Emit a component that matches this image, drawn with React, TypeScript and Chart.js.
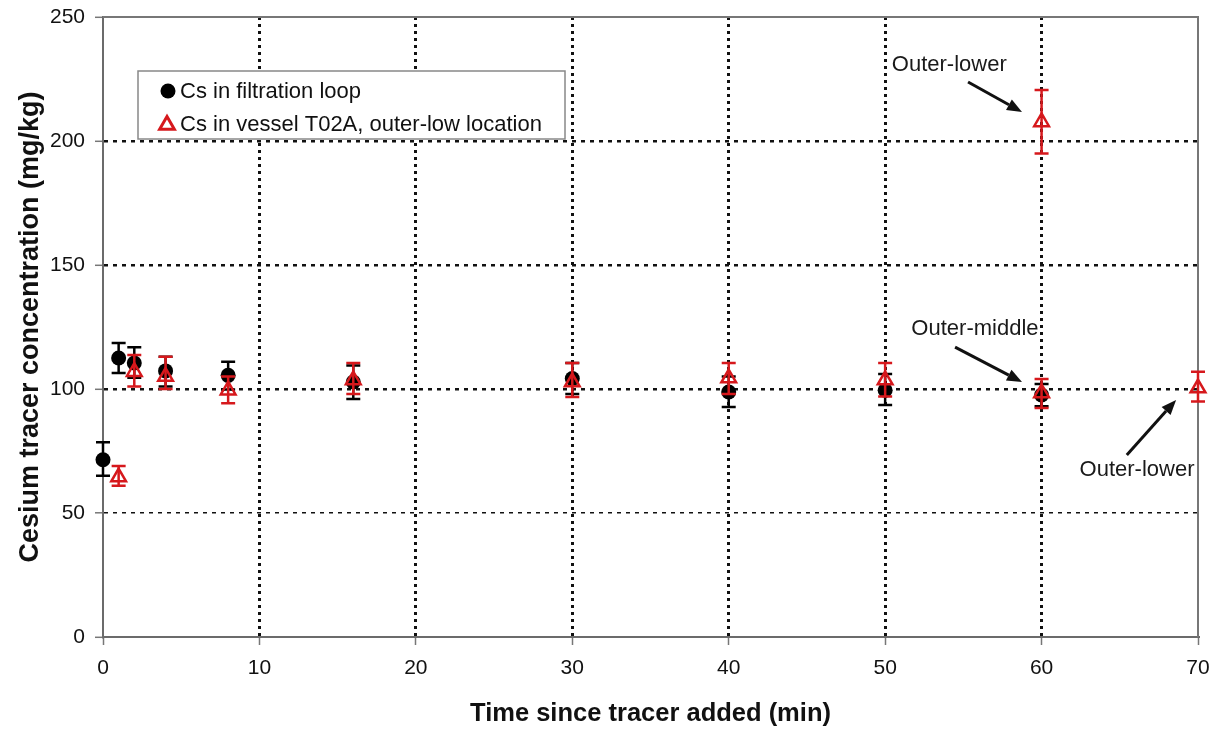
import React, { useEffect, useRef } from 'react';
import { Chart, registerables } from 'chart.js';

Chart.register(...registerables);

// ---- data ----
const xTickStep = 10;
const yTickStep = 50;
const xRange = [0, 70];
const yRange = [0, 250];

const loopTime = [0, 1, 2, 4, 8, 16, 30, 40, 50, 60];
const loopConc = [71.5, 112.5, 110.5, 107.3, 105.5, 102.8, 104.2, 98.8, 99.5, 97.6];
const loopLow = [65, 106.5, 104.5, 101, 99.8, 96, 98, 92.7, 93.5, 93];
const loopHigh = [78.5, 118.5, 116.8, 113, 111, 109.5, 110.5, 105, 106, 102];

const vesselTime = [1, 2, 4, 8, 16, 30, 40, 50, 60, 60, 70];
const vesselConc = [64.5, 107, 105, 99.5, 103.6, 102.8, 104.4, 103.6, 207.7, 98.4, 100.4];
const vesselLow = [61, 101, 100, 94.3, 98, 96.8, 98, 97, 195, 92.3, 95];
const vesselHigh = [69, 113.7, 113, 105, 110.5, 110.5, 110.5, 110.5, 220.6, 104, 107];

const loopLabel = 'Cs in filtration loop';
const vesselLabel = 'Cs in vessel T02A, outer-low location';

const noteTexts = ['Outer-lower', 'Outer-middle', 'Outer-lower'];
const noteTextAt = [[54.1, 230.6], [55.74, 124.2], [66.1, 67.3]];
const noteArrowFrom = [[55.3, 223.8], [54.47, 116.9], [65.45, 73.4]];
const noteArrowTo = [[58.75, 211.7], [58.75, 102.8], [68.6, 95.6]];

const RED = 'rgb(214,24,28)';
const FONT = "'Liberation Sans', Arial, sans-serif";

const errorBarPlugin = {
  id: 'errorBars',
  beforeDatasetDraw(chart: any, args: any) {
    const ds = chart.data.datasets[args.index];
    if (!ds.errLow) return;
    const meta = chart.getDatasetMeta(args.index);
    const ys = chart.scales.y;
    const ctx = chart.ctx;
    ctx.save();
    ctx.strokeStyle = ds.errColor;
    ctx.lineWidth = 2.5;
    ctx.setLineDash([]);
    meta.data.forEach((pt: any, i: number) => {
      const x = pt.x;
      const yl = ys.getPixelForValue(ds.errLow[i]);
      const yh = ys.getPixelForValue(ds.errHigh[i]);
      ctx.beginPath();
      ctx.moveTo(x, yl);
      ctx.lineTo(x, yh);
      ctx.moveTo(x - 7, yl);
      ctx.lineTo(x + 7, yl);
      ctx.moveTo(x - 7, yh);
      ctx.lineTo(x + 7, yh);
      ctx.stroke();
    });
    ctx.restore();
  },
};

const framePlugin = {
  id: 'frame',
  beforeDatasetsDraw(chart: any) {
    const { ctx, chartArea } = chart;
    ctx.save();
    ctx.strokeStyle = '#777';
    ctx.lineWidth = 2;
    ctx.beginPath();
    ctx.moveTo(chartArea.left, chartArea.top);
    ctx.lineTo(chartArea.right, chartArea.top);
    ctx.lineTo(chartArea.right, chartArea.bottom);
    ctx.stroke();
    ctx.restore();
  },
};

function drawTriangle(ctx: CanvasRenderingContext2D, x: number, y: number, r: number) {
  ctx.beginPath();
  let rad = 0;
  ctx.moveTo(x + Math.sin(rad) * r, y - Math.cos(rad) * r);
  rad += (2 * Math.PI) / 3;
  ctx.lineTo(x + Math.sin(rad) * r, y - Math.cos(rad) * r);
  rad += (2 * Math.PI) / 3;
  ctx.lineTo(x + Math.sin(rad) * r, y - Math.cos(rad) * r);
  ctx.closePath();
}

const legendPlugin = {
  id: 'boxLegend',
  afterDatasetsDraw(chart: any) {
    const { ctx, chartArea } = chart;
    const bx = chartArea.left + 35;
    const by = chartArea.top + 54;
    const bw = 427;
    const bh = 68;
    ctx.save();
    ctx.fillStyle = '#fff';
    ctx.fillRect(bx, by, bw, bh);
    ctx.strokeStyle = '#888';
    ctx.lineWidth = 1.5;
    ctx.strokeRect(bx, by, bw, bh);
    ctx.font = `22px ${FONT}`;
    ctx.textBaseline = 'middle';
    ctx.textAlign = 'left';
    const row1 = by + 20;
    const row2 = by + 53;
    ctx.beginPath();
    ctx.arc(bx + 30, row1, 7.5, 0, Math.PI * 2);
    ctx.fillStyle = '#000';
    ctx.fill();
    ctx.fillStyle = '#111';
    ctx.fillText(chart.data.datasets[0].label, bx + 42, row1 + 1);
    ctx.strokeStyle = RED;
    ctx.lineWidth = 3;
    drawTriangle(ctx, bx + 29, row2 + 1, 8.5);
    ctx.stroke();
    ctx.fillText(chart.data.datasets[1].label, bx + 42, row2 + 1);
    ctx.restore();
  },
};

const notesPlugin = {
  id: 'notes',
  afterDatasetsDraw(chart: any) {
    const { ctx } = chart;
    const xs = chart.scales.x;
    const ys = chart.scales.y;
    ctx.save();
    ctx.font = `22px ${FONT}`;
    ctx.textAlign = 'center';
    ctx.textBaseline = 'middle';
    noteTexts.forEach((t, i) => {
      const tx = xs.getPixelForValue(noteTextAt[i][0]);
      const ty = ys.getPixelForValue(noteTextAt[i][1]);
      ctx.fillStyle = '#1a1a1a';
      ctx.fillText(t, tx, ty);
      const x1 = xs.getPixelForValue(noteArrowFrom[i][0]);
      const y1 = ys.getPixelForValue(noteArrowFrom[i][1]);
      const x2 = xs.getPixelForValue(noteArrowTo[i][0]);
      const y2 = ys.getPixelForValue(noteArrowTo[i][1]);
      const ang = Math.atan2(y2 - y1, x2 - x1);
      const hl = 15;
      const hw = 6;
      const bxp = x2 - Math.cos(ang) * hl;
      const byp = y2 - Math.sin(ang) * hl;
      ctx.strokeStyle = '#111';
      ctx.lineWidth = 3;
      ctx.beginPath();
      ctx.moveTo(x1, y1);
      ctx.lineTo(bxp, byp);
      ctx.stroke();
      ctx.fillStyle = '#111';
      ctx.beginPath();
      ctx.moveTo(x2, y2);
      ctx.lineTo(bxp + Math.sin(ang) * hw, byp - Math.cos(ang) * hw);
      ctx.lineTo(bxp - Math.sin(ang) * hw, byp + Math.cos(ang) * hw);
      ctx.closePath();
      ctx.fill();
    });
    ctx.restore();
  },
};

const zeroPad = (s: any) => {
  s.paddingTop = 0;
  s.paddingBottom = 0;
  s.paddingLeft = 0;
  s.paddingRight = 0;
};

export default function App() {
  const ref = useRef<HTMLCanvasElement | null>(null);
  useEffect(() => {
    document.body.style.margin = '0';
    const canvas = ref.current;
    if (!canvas) return;
    const hideEdge = (min: number, max: number, col: string) => (c: any) =>
      c.tick && (c.tick.value === min || c.tick.value === max) ? 'rgba(0,0,0,0)' : col;
    const chart = new Chart(canvas, {
      type: 'scatter',
      data: {
        datasets: [
          {
            label: loopLabel,
            data: loopTime.map((t, i) => ({ x: t, y: loopConc[i] })),
            pointStyle: 'circle',
            pointRadius: 7.5,
            pointHoverRadius: 7.5,
            backgroundColor: '#000',
            borderColor: '#000',
            borderWidth: 0,
            showLine: false,
            order: 1,
            clip: false,
            errLow: loopLow,
            errHigh: loopHigh,
            errColor: '#000',
          } as any,
          {
            label: vesselLabel,
            data: vesselTime.map((t, i) => ({ x: t, y: vesselConc[i] })),
            pointStyle: 'triangle',
            pointRadius: 8.5,
            pointHoverRadius: 8.5,
            backgroundColor: 'rgba(0,0,0,0)',
            borderColor: RED,
            borderWidth: 2.5,
            showLine: false,
            order: 0,
            clip: false,
            errLow: vesselLow,
            errHigh: vesselHigh,
            errColor: RED,
          } as any,
        ],
      },
      options: {
        animation: false,
        responsive: false,
        devicePixelRatio: 1,
        layout: { padding: { top: 17, right: 14, left: 0, bottom: 0 } },
        plugins: {
          legend: { display: false },
          tooltip: { enabled: false },
        },
        scales: {
          x: {
            type: 'linear',
            min: xRange[0],
            max: xRange[1],
            afterFit: (s: any) => {
              s.height = 94;
              zeroPad(s);
            },
            ticks: {
              stepSize: xTickStep,
              color: '#111',
              font: { family: FONT, size: 21, lineHeight: 1.2 },
              padding: 11,
              maxRotation: 0,
            },
            grid: {
              color: hideEdge(xRange[0], xRange[1], '#111'),
              lineWidth: 3,
              tickColor: '#777',
              tickWidth: 1.5,
              tickLength: 8,
            },
            border: { display: true, color: '#6b6b6b', width: 2, dash: [3, 4] },
            title: {
              display: true,
              text: 'Time since tracer added (min)',
              color: '#111',
              font: { family: FONT, size: 25.5, weight: 'bold', lineHeight: 1.2 },
              padding: { top: 0, bottom: 2 },
            },
          },
          y: {
            type: 'linear',
            min: yRange[0],
            max: yRange[1],
            afterFit: (s: any) => {
              s.width = 103;
              zeroPad(s);
            },
            ticks: {
              stepSize: yTickStep,
              color: '#111',
              font: { family: FONT, size: 21, lineHeight: 1.2 },
              padding: 10,
            },
            grid: {
              color: hideEdge(yRange[0], yRange[1], '#111'),
              lineWidth: (c: any) => (c.tick && c.tick.value === 50 ? 1.6 : 2.6),
              tickColor: '#777',
              tickWidth: 1.5,
              tickLength: 8,
            },
            border: { display: true, color: '#6b6b6b', width: 2, dash: [4, 5] },
            title: {
              display: true,
              text: 'Cesium tracer concentration (mg/kg)',
              color: '#111',
              font: { family: FONT, size: 27, weight: 'bold', lineHeight: 1.2 },
              padding: { top: 14, bottom: 0 },
            },
          },
        },
      } as any,
      plugins: [errorBarPlugin, framePlugin, legendPlugin, notesPlugin],
    });
    return () => chart.destroy();
  }, []);
  return (
    <div style={{ width: 1212, height: 731 }}>
      <canvas ref={ref} width={1212} height={731} style={{ display: 'block' }} />
    </div>
  );
}
